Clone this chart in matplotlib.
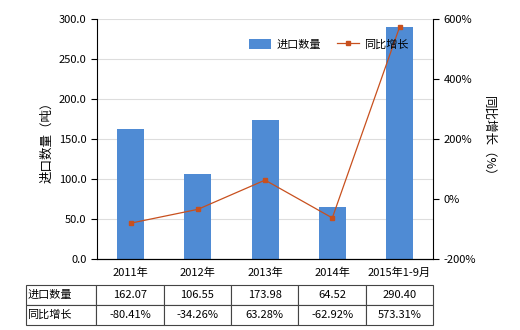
import matplotlib.pyplot as plt
from matplotlib.ticker import FuncFormatter

plt.rcParams['font.family'] = ['Noto Sans CJK SC', 'DejaVu Sans']

# data
years = ["2011年", "2012年", "2013年", "2014年", "2015年1-9月"]
qty = [162.07, 106.55, 173.98, 64.52, 290.40]
growth = [-80.41, -34.26, 63.28, -62.92, 573.31]

bar_color = "#4F8BD4"
line_color = "#C8501E"

fig = plt.figure(figsize=(5.2, 3.3), dpi=100)
ax = fig.add_axes([0.1865, 0.215, 0.6465, 0.727])
ax2 = ax.twinx()

x = list(range(len(years)))
ax.bar(x, qty, width=0.4, color=bar_color, label="进口数量", zorder=2)
ax2.plot(x, growth, color=line_color, lw=0.9, marker="s", markersize=3.5,
         label="同比增长", zorder=3)

ax.set_xlim(-0.5, len(years) - 0.5)
ax.set_ylim(0, 300)
ax.set_yticks([0, 50, 100, 150, 200, 250, 300])
ax.yaxis.set_major_formatter(FuncFormatter(lambda v, p: f"{v:.1f}"))
ax2.set_ylim(-200, 600)
ax2.set_yticks([-200, 0, 200, 400, 600])
ax2.yaxis.set_major_formatter(FuncFormatter(lambda v, p: f"{v:.0f}%"))

ax.set_xticks(x)
ax.set_xticklabels(years, fontsize=8)
ax.tick_params(axis="x", length=0, pad=6)
ax.tick_params(axis="y", labelsize=8, length=4)
ax2.tick_params(axis="y", labelsize=8, length=4)

ax.grid(axis="y", color="#dddddd", lw=0.8, zorder=0)
ax.set_axisbelow(True)
for a in (ax, ax2):
    a.spines["top"].set_visible(False)
ax2.spines["left"].set_visible(False)
ax.spines["right"].set_visible(False)

ax.set_ylabel("进口数量（吨）", fontsize=9)
ax2.set_ylabel("同比增长（%）", fontsize=9, rotation=-90, labelpad=14)

h1, l1 = ax.get_legend_handles_labels()
h2, l2 = ax2.get_legend_handles_labels()
ax2.legend(h1 + h2, l1 + l2, loc="upper center", bbox_to_anchor=(0.69, 0.96),
           ncol=2, frameon=False, fontsize=8, handlelength=2.0, handleheight=1.1,
           handletextpad=0.5, columnspacing=1.4)

# data table under the chart
cells = [["进口数量"] + [f"{v:.2f}" for v in qty],
         ["同比增长"] + [f"{v:.2f}%" for v in growth]]
tbl = ax.table(cellText=cells, cellLoc="center",
               colWidths=[70 / 407] + [67.2 / 407] * 5,
               bbox=[-0.211, -0.275, 1.211, 0.1667])
tbl.auto_set_font_size(False)
tbl.set_fontsize(8)
for (r, c), cell in tbl.get_celld().items():
    cell.set_edgecolor("#444444")
    cell.set_linewidth(0.8)
    if c == 0:
        cell.set_text_props(ha="left")
        cell.PAD = 0.02

fig.savefig("out.png", dpi=100)
